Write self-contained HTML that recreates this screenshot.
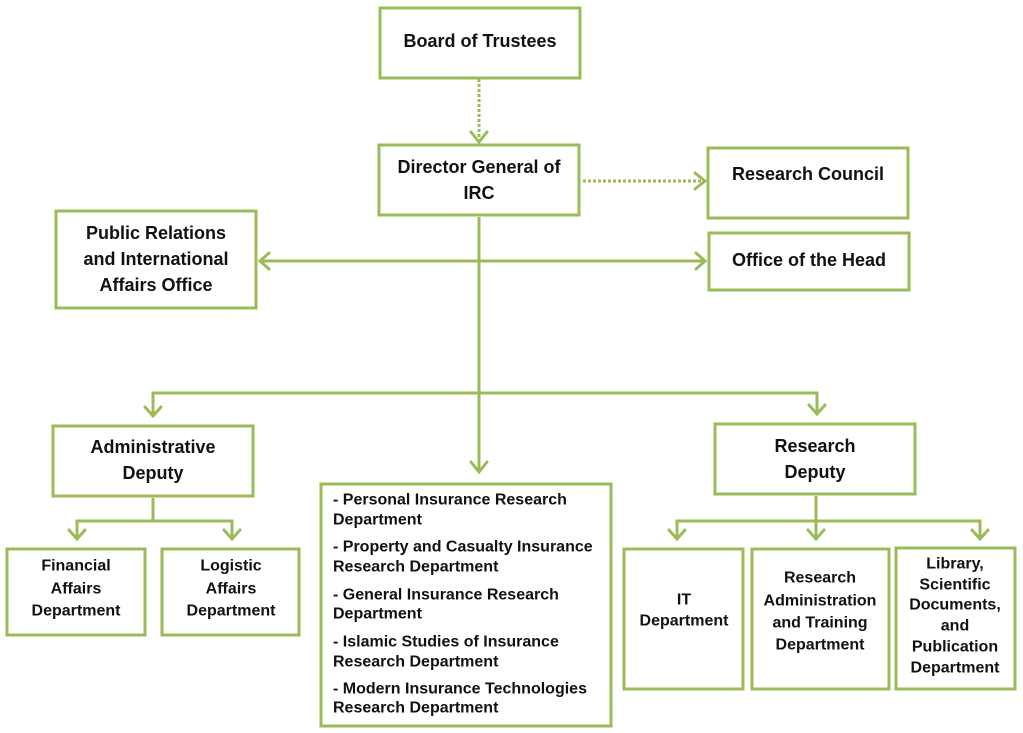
<!DOCTYPE html>
<html><head><meta charset="utf-8"><style>
html,body{margin:0;padding:0;background:#fff;}
svg{display:block;}
text{font-family:"Liberation Sans",sans-serif;font-weight:bold;fill:#111;dominant-baseline:central;}
.b{font-size:18px;text-anchor:middle;}
.s{font-size:16px;text-anchor:middle;}
.l{font-size:16px;}
rect{fill:#fff;stroke:#9bbb59;stroke-width:3;}
.ln{stroke:#9bbb59;stroke-width:3;fill:none;}
.dt{stroke:#9bbb59;stroke-width:3;fill:none;stroke-dasharray:3 2;}
.ah{stroke:#9bbb59;stroke-width:3;fill:none;stroke-linecap:round;}
</style></head><body>
<svg width="1023" height="733" viewBox="0 0 1023 733" xmlns="http://www.w3.org/2000/svg">
<line class="dt" x1="479" y1="79" x2="479" y2="142"/>
<polyline class="ah" points="471,132 479,142 487,132"/>
<line class="dt" x1="583" y1="181" x2="704" y2="181"/>
<polyline class="ah" points="695,173 705,181 695,189"/>
<line class="ln" x1="479" y1="217" x2="479" y2="472"/>
<polyline class="ah" points="471,462 479,472 487,462"/>
<line class="ln" x1="260" y1="261" x2="705" y2="261"/>
<polyline class="ah" points="269,253 260,261 269,269"/>
<polyline class="ah" points="696,253 705,261 696,269"/>
<polyline class="ln" points="153,416 153,393 817,393 817,414"/>
<polyline class="ah" points="145,407 153,416 161,407"/>
<polyline class="ah" points="809,405 817,414 825,405"/>
<polyline class="ln" points="153,498 153,521"/>
<polyline class="ln" points="77,539 77,521 232,521 232,539"/>
<polyline class="ah" points="69,530 77,539 85,530"/>
<polyline class="ah" points="224,530 232,539 240,530"/>
<line class="ln" x1="816" y1="496" x2="816" y2="539"/>
<polyline class="ln" points="677,539 677,521 980,521 980,539"/>
<polyline class="ah" points="669,530 677,539 685,530"/>
<polyline class="ah" points="808,530 816,539 824,530"/>
<polyline class="ah" points="972,530 980,539 988,530"/>
<rect x="380" y="8" width="200" height="70"/>
<text class="b" x="480" y="41">Board of Trustees</text>
<rect x="379" y="145" width="200" height="70"/>
<text class="b" x="479" y="167">Director General of</text>
<text class="b" x="479" y="193">IRC</text>
<rect x="708" y="148" width="200" height="70"/>
<text class="b" x="808" y="174">Research Council</text>
<rect x="56" y="211" width="200" height="97"/>
<text class="b" x="156" y="233">Public Relations</text>
<text class="b" x="156" y="259">and International</text>
<text class="b" x="156" y="285">Affairs Office</text>
<rect x="709" y="233" width="200" height="57"/>
<text class="b" x="809" y="260">Office of the Head</text>
<rect x="53" y="426" width="200" height="70"/>
<text class="b" x="153" y="447">Administrative</text>
<text class="b" x="153" y="473">Deputy</text>
<rect x="715" y="424" width="200" height="70"/>
<text class="b" x="815" y="446">Research</text>
<text class="b" x="815" y="472">Deputy</text>
<rect x="321" y="484" width="290" height="242"/>
<text class="l" x="333" y="500">- Personal Insurance Research</text>
<text class="l" x="333" y="520">Department</text>
<text class="l" x="333" y="547">- Property and Casualty Insurance</text>
<text class="l" x="333" y="567">Research Department</text>
<text class="l" x="333" y="595">- General Insurance Research</text>
<text class="l" x="333" y="614">Department</text>
<text class="l" x="333" y="642">- Islamic Studies of Insurance</text>
<text class="l" x="333" y="662">Research Department</text>
<text class="l" x="333" y="689">- Modern Insurance Technologies</text>
<text class="l" x="333" y="708">Research Department</text>
<rect x="7" y="549" width="138" height="86"/>
<text class="s" x="76" y="566">Financial</text>
<text class="s" x="76" y="589">Affairs</text>
<text class="s" x="76" y="611">Department</text>
<rect x="162" y="549" width="137" height="86"/>
<text class="s" x="231" y="566">Logistic</text>
<text class="s" x="231" y="589">Affairs</text>
<text class="s" x="231" y="611">Department</text>
<rect x="624" y="549" width="119" height="140"/>
<text class="s" x="684" y="600">IT</text>
<text class="s" x="684" y="621">Department</text>
<rect x="752" y="549" width="137" height="140"/>
<text class="s" x="820" y="578">Research</text>
<text class="s" x="820" y="601">Administration</text>
<text class="s" x="820" y="623">and Training</text>
<text class="s" x="820" y="645">Department</text>
<rect x="896" y="548" width="119" height="141"/>
<text class="s" x="955" y="564">Library,</text>
<text class="s" x="955" y="585">Scientific</text>
<text class="s" x="955" y="605">Documents,</text>
<text class="s" x="955" y="626">and</text>
<text class="s" x="955" y="647">Publication</text>
<text class="s" x="955" y="668">Department</text>
</svg>
</body></html>
